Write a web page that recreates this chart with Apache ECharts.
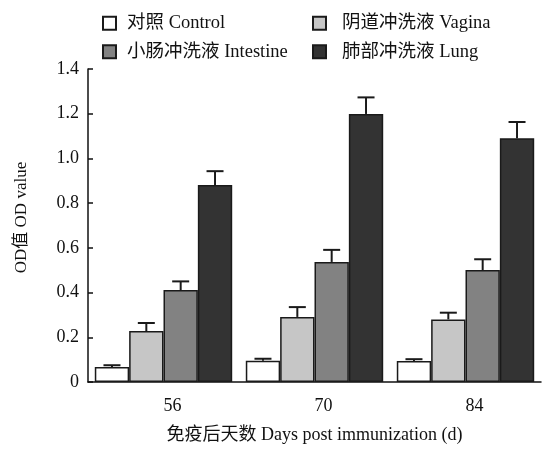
<!DOCTYPE html>
<html>
<head>
<meta charset="utf-8">
<script src="https://cdn.jsdelivr.net/npm/echarts@6/dist/echarts.min.js"></script>
<style>
  html, body { margin: 0; padding: 0; background: #fff; }
  #chart { width: 542px; height: 453px; }
</style>
</head>
<body>
<div id="chart"></div>
<script>
const categories = ['56', '70', '84']
const seriesNames = ['对照 Control', '阴道冲洗液 Vagina', '小肠冲洗液 Intestine', '肺部冲洗液 Lung']
const seriesColors = ['#ffffff', '#c6c6c6', '#828282', '#333333']

const control = [0.067, 0.095, 0.094]
const controlErr = [0.008, 0.009, 0.008]
const vagina = [0.228, 0.291, 0.28]
const vaginaErr = [0.036, 0.044, 0.03]
const intestine = [0.411, 0.537, 0.501]
const intestineErr = [0.039, 0.054, 0.048]
const lung = [0.881, 1.199, 1.09]
const lungErr = [0.062, 0.074, 0.073]

const yTicks = [0, 0.2, 0.4, 0.6, 0.8, 1.0, 1.2, 1.4]

const values = [control, vagina, intestine, lung]
const errors = [controlErr, vaginaErr, intestineErr, lungErr]

const FONT = "'Liberation Serif', 'Noto Sans CJK SC', serif"
const CAT_GAP = 0.09

const chart = echarts.init(document.getElementById('chart'))

const series = []
values.forEach((vals, i) => {
  series.push({
    name: seriesNames[i],
    type: 'bar',
    data: vals,
    barGap: '0%',
    barCategoryGap: (CAT_GAP * 100) + '%',
    itemStyle: { color: seriesColors[i], borderColor: '#1a1a1a', borderWidth: 1.5 }
  })
})

// error bars (upper only), one row per bar: [category, value, err, seriesIndex]
const errData = []
values.forEach((vals, i) => {
  vals.forEach((v, j) => errData.push([j, v, errors[i][j], i]))
})

series.push({
  type: 'custom',
  data: errData,
  z: 5,
  renderItem: (params, api) => {
    const cat = api.value(0)
    const base = api.coord([cat, api.value(1)])
    const top = api.coord([cat, api.value(1) + api.value(2)])
    const catW = api.size([1, 0])[0]
    const bw = catW * (1 - CAT_GAP) / 4
    const x = base[0] + (api.value(3) - 1.5) * bw
    const half = 8.5
    const style = { stroke: '#1a1a1a', lineWidth: 2 }
    return {
      type: 'group',
      children: [
        { type: 'line', shape: { x1: x, y1: base[1], x2: x, y2: top[1] }, style },
        { type: 'line', shape: { x1: x - half, y1: top[1], x2: x + half, y2: top[1] }, style }
      ]
    }
  }
})

const legendText = { fontFamily: FONT, fontSize: 18.5, color: '#111' }

chart.setOption({
  animation: false,
  backgroundColor: '#ffffff',
  textStyle: { fontFamily: FONT, color: '#111' },
  grid: { left: 88, right: 1, top: 69, bottom: 71 },
  legend: [
    {
      orient: 'vertical',
      left: 97,
      top: 9,
      itemWidth: 13,
      itemHeight: 13,
      itemGap: 10,
      icon: 'rect',
      data: [seriesNames[0], seriesNames[2]],
      textStyle: Object.assign({}, legendText, { padding: [0, 0, 0, 6] })
    },
    {
      orient: 'vertical',
      left: 307,
      top: 9,
      itemWidth: 13,
      itemHeight: 13,
      itemGap: 10,
      icon: 'rect',
      data: [seriesNames[1], seriesNames[3]],
      textStyle: Object.assign({}, legendText, { padding: [0, 0, 0, 11] })
    }
  ],
  xAxis: {
    type: 'category',
    data: categories,
    name: '免疫后天数 Days post immunization (d)',
    nameLocation: 'middle',
    nameGap: 44,
    nameTextStyle: { fontFamily: FONT, fontSize: 18, color: '#111' },
    axisLine: { lineStyle: { color: '#111', width: 1.5 } },
    axisTick: { inside: true, length: 7, lineStyle: { color: '#111', width: 1.5 } },
    axisLabel: { fontFamily: FONT, fontSize: 18, color: '#111', margin: 15, padding: [0, 0, 0, 18] }
  },
  yAxis: {
    type: 'value',
    min: yTicks[0],
    max: yTicks[yTicks.length - 1],
    interval: 0.2,
    name: 'OD值 OD value',
    nameLocation: 'middle',
    nameGap: 58,
    nameTextStyle: { fontFamily: FONT, fontSize: 17, color: '#111', padding: [0, 0, 0, 16] },
    axisLine: { show: true, lineStyle: { color: '#111', width: 1.5 } },
    axisTick: { show: true, inside: true, length: 5, lineStyle: { color: '#111', width: 1.5 } },
    splitLine: { show: false },
    axisLabel: {
      fontFamily: FONT,
      fontSize: 18,
      color: '#111',
      margin: 9,
      formatter: (v) => (v === 0 ? '0' : v.toFixed(1))
    }
  },
  series
})
</script>
</body>
</html>
